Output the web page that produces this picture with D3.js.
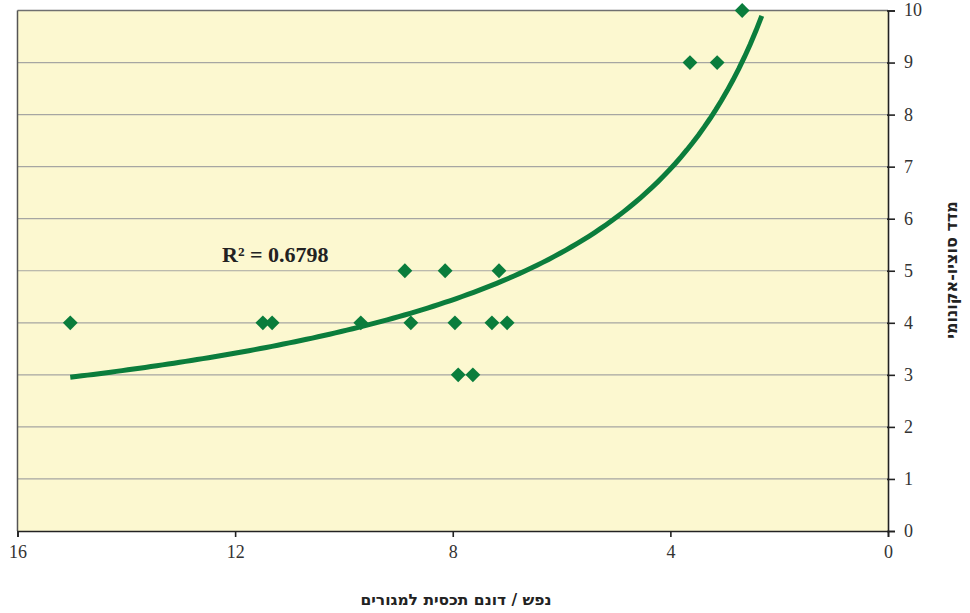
<!DOCTYPE html>
<html><head><meta charset="utf-8">
<script src="https://cdn.jsdelivr.net/npm/d3@7"></script>
<style>html,body{margin:0;padding:0;background:#fff;}svg{display:block;}</style>
</head><body>
<script>
// Data (x: persons per dunam residential coverage, y: socio-economic index)
const xValues = [15.03, 11.49, 11.32, 9.69, 8.88, 8.77, 8.14, 7.96, 7.90, 7.63, 7.28, 7.15, 7.00, 3.64, 3.14, 2.68];
const yValues = [4, 4, 4, 4, 5, 4, 5, 4, 3, 3, 4, 5, 4, 9, 9, 10];
const xTicks = [16, 12, 8, 4, 0];
const yTicks = [0, 1, 2, 3, 4, 5, 6, 7, 8, 9, 10];
const trendRange = [15.03, 2.32];
const r2Label = "R² = 0.6798";
const xTitle = "נפש / דונם תכסית למגורים";
const yTitle = "מדד סוציו-אקונומי";

const W = 970, H = 613;
const L = 17.5, R = 888, T = 10.5, B = 531;
const svg = d3.select("body").append("svg").attr("width", W).attr("height", H);

const x = d3.scaleLinear().domain([16, 0]).range([L, R]);
const y = d3.scaleLinear().domain([0, 10]).range([B, T]);

svg.append("rect").attr("x", L).attr("y", T).attr("width", R - L).attr("height", B - T).attr("fill", "#FCF8D0");

// gridlines
svg.append("g").selectAll("line").data(yTicks.filter(d => d > 0 && d < 10)).join("line")
  .attr("x1", L).attr("x2", R).attr("y1", d => y(d)).attr("y2", d => y(d))
  .attr("stroke", "#a6a6a2").attr("stroke-width", 1.2);
// top & left borders
svg.append("line").attr("x1", L).attr("x2", R).attr("y1", T).attr("y2", T).attr("stroke", "#707070").attr("stroke-width", 1.5);
svg.append("line").attr("x1", L).attr("x2", L).attr("y1", T).attr("y2", B).attr("stroke", "#555").attr("stroke-width", 1.5);

const fontSerif = "'Liberation Serif', 'DejaVu Serif', serif";
const fontHeb = "'DejaVu Sans', sans-serif";

// x axis
const xAxis = svg.append("g").attr("transform", `translate(0,${B})`)
  .call(d3.axisBottom(x).tickValues(xTicks).tickSize(6).tickPadding(8).tickFormat(d3.format("d")));
xAxis.select(".domain").attr("stroke", "#222").attr("stroke-width", 1.6);
xAxis.selectAll(".tick line").attr("stroke", "#222").attr("stroke-width", 1.6);
xAxis.selectAll("text").attr("font-family", fontSerif).attr("font-size", 18).attr("fill", "#333");

// y axis (right)
const yAxis = svg.append("g").attr("transform", `translate(${R},0)`)
  .call(d3.axisRight(y).tickValues(yTicks).tickSize(7).tickPadding(9).tickFormat(d3.format("d")));
yAxis.select(".domain").attr("stroke", "#222").attr("stroke-width", 1.6);
yAxis.selectAll(".tick line").attr("stroke", "#222").attr("stroke-width", 1.6).attr("x1", -1);
yAxis.selectAll("text").attr("font-family", fontSerif).attr("font-size", 18).attr("fill", "#333").attr("dy", "0.3em");

// power trendline fitted by least squares on ln-ln
const lx = xValues.map(Math.log), ly = yValues.map(Math.log);
const mx = d3.mean(lx), my = d3.mean(ly);
const b = d3.sum(lx.map((v, i) => (v - mx) * (ly[i] - my))) / d3.sum(lx.map(v => (v - mx) ** 2));
const a = Math.exp(my - b * mx);
const trendXs = d3.range(0, 121).map(i => trendRange[0] + (trendRange[1] - trendRange[0]) * i / 120);
svg.append("path").datum(trendXs)
  .attr("d", d3.line().x(d => x(d)).y(d => y(a * Math.pow(d, b))))
  .attr("fill", "none").attr("stroke", "#0b7d3c").attr("stroke-width", 5);

// points
svg.append("g").selectAll("path").data(xValues).join("path")
  .attr("transform", (d, i) => `translate(${x(d)},${y(yValues[i])})`)
  .attr("d", d3.symbol().type(d3.symbolDiamond2).size(140))
  .attr("fill", "#0a7d3c");

// R2 label
svg.append("text").attr("x", 222).attr("y", 262).attr("font-family", fontSerif)
  .attr("font-weight", "bold").attr("font-size", 22).attr("fill", "#222").text(r2Label);

// titles
svg.append("text").attr("x", 456).attr("y", 605).attr("text-anchor", "middle")
  .attr("font-family", fontHeb).attr("font-weight", "bold")
  .attr("font-size", 15.5).attr("fill", "#222").attr("direction", "rtl").text(xTitle);
svg.append("text").attr("transform", `translate(957,270) rotate(-90)`).attr("text-anchor", "middle")
  .attr("font-family", fontHeb).attr("font-weight", "bold")
  .attr("font-size", 16).attr("fill", "#222").attr("direction", "rtl").text(yTitle);
</script>
</body></html>
